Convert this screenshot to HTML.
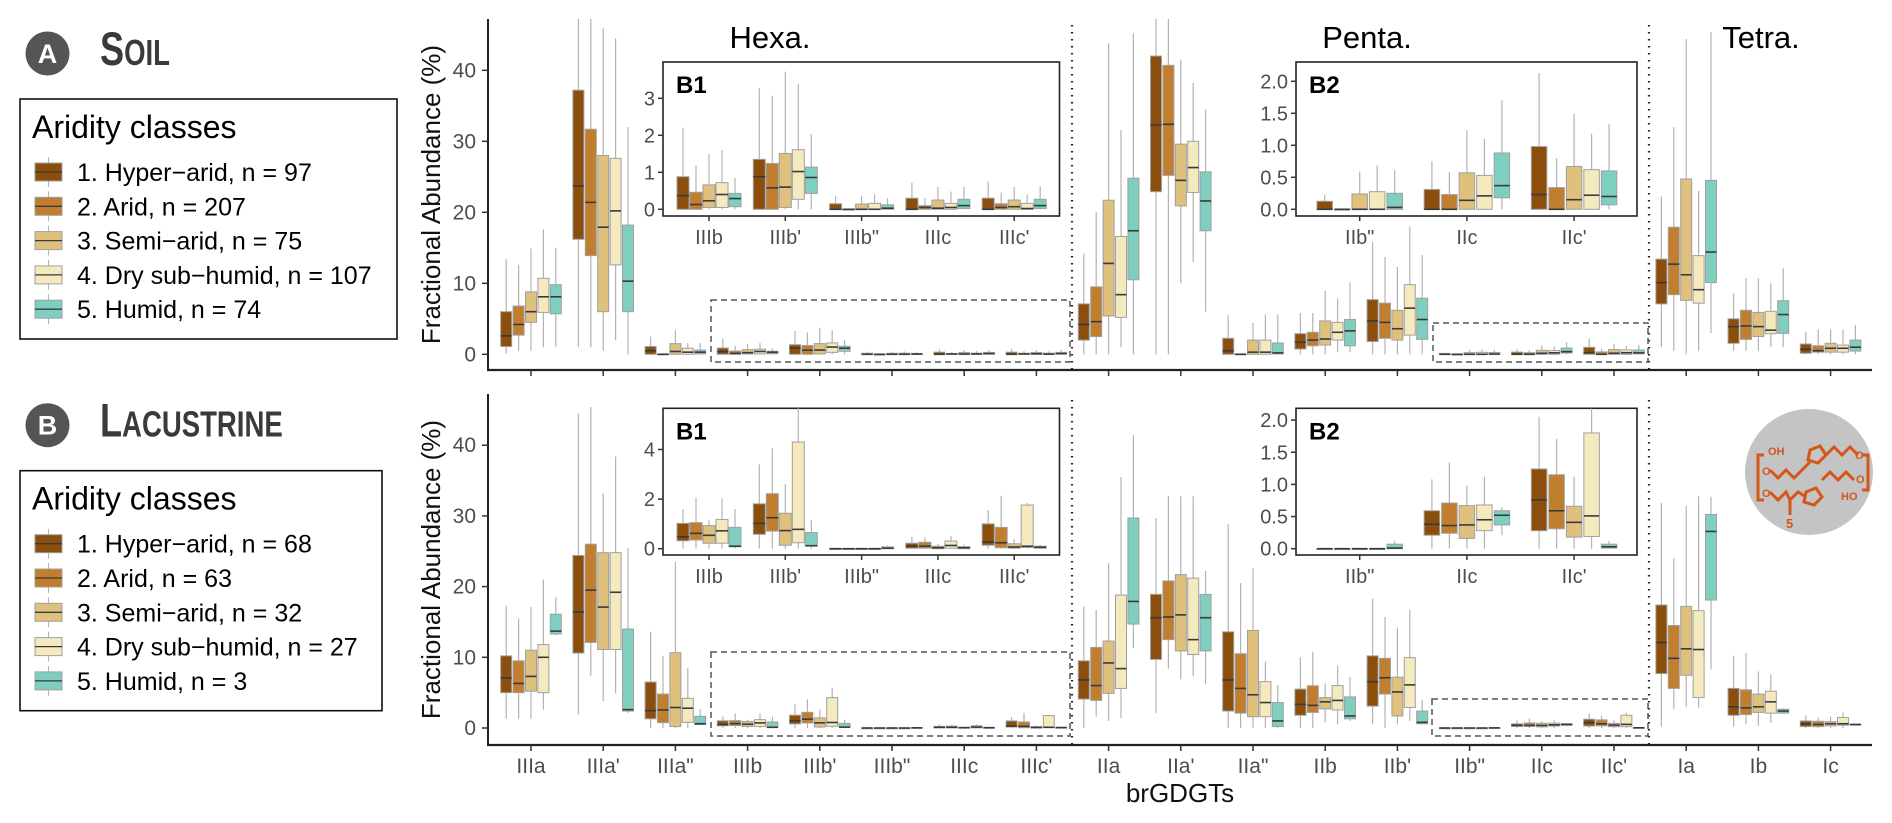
<!DOCTYPE html>
<html><head><meta charset="utf-8"><title>brGDGT fractional abundance by aridity class</title>
<style>
html,body{margin:0;padding:0;background:#fff;}
svg{display:block;font-family:"Liberation Sans",sans-serif;}
</style></head>
<body>
<svg id="chart" xmlns="http://www.w3.org/2000/svg" width="1892" height="823" viewBox="0 0 1892 823">
<defs>
<clipPath id="clipTop"><rect x="488" y="19" width="1390" height="351"/></clipPath>
<clipPath id="clipBot"><rect x="488" y="394" width="1390" height="351"/></clipPath>
</defs>
<g id="legendLayer"></g>
<g id="plotLayer"></g>
<g id="molecule">
<ellipse cx="1809" cy="472" rx="64" ry="63" fill="#c4c4c4"/>
<g fill="none" stroke="#d4561a" stroke-width="3">
<polyline points="1764,455 1758,455 1758,500 1764,500"/>
<polyline points="1770,470 1778,478 1786,470 1794,478 1802,470 1810,462"/>
<polygon points="1810,450 1820,446 1826,455 1818,463 1808,460"/>
<polyline points="1826,455 1834,447 1842,455 1850,447 1858,455"/>
<polyline points="1770,492 1778,500 1786,492 1790,500 1798,492 1806,497"/>
<polygon points="1806,492 1816,488 1822,497 1814,505 1804,502"/>
<polyline points="1822,480 1830,472 1838,480 1846,472 1854,480"/>
<polyline points="1790,500 1790,515"/>
<polyline points="1862,455 1868,455 1868,490 1862,490"/>
</g>
<g fill="#d4561a" font-size="11" font-weight="bold">
<text x="1768" y="455">OH</text><text x="1762" y="475">O</text><text x="1762" y="497">O</text>
<text x="1855" y="459">O</text><text x="1856" y="483">O</text><text x="1841" y="500">HO</text>
<text x="1786" y="528" font-size="13">5</text>
</g>
</g>
</svg>
<script>
// ---------- data ----------
const categories = ["IIIa","IIIa'","IIIa\"","IIIb","IIIb'","IIIb\"","IIIc","IIIc'","IIa","IIa'","IIa\"","IIb","IIb'","IIb\"","IIc","IIc'","Ia","Ib","Ic"];
const classColors = ["#8b4e0c","#c17e2e","#dfc07c","#f5e9be","#7ecfc0"];
const soilLegend = ["1. Hyper\u2212arid, n = 97","2. Arid, n = 207","3. Semi\u2212arid, n = 75","4. Dry sub\u2212humid, n = 107","5. Humid, n = 74"];
const lakeLegend = ["1. Hyper\u2212arid, n = 68","2. Arid, n = 63","3. Semi\u2212arid, n = 32","4. Dry sub\u2212humid, n = 27","5. Humid, n = 3"];
const mainTicks = [0,10,20,30,40];
const b1TopTicks = [0,1,2,3];
const b1BotTicks = [0,2,4];
const b2Ticks = [0,0.5,1,1.5,2];
const b2TickLabels = ["0.0","0.5","1.0","1.5","2.0"];
const b1Cats = [3,4,5,6,7];
const b2Cats = [13,14,15];
// [low whisker, q1, median, q3, high whisker] per category
const soilHyper = [[0.1,1.1,2.6,6.0,13.4],[1,16.2,23.7,37.2,48],[0,0,0.5,1.1,2.5],[0,0,0.37,0.88,2.2],[0,0,0.88,1.35,3.27],[0,0,0,0.15,0.35],[0,0,0,0.3,0.72],[0,0,0,0.3,0.75],[0,2,4.2,7.1,14.2],[0,22.9,32.3,42,48],[0,0,0.5,2.25,5.5],[0,0.75,1.7,2.9,5.8],[0,1.8,4.7,7.7,15.8],[0,0,0,0.125,0.23],[0,0,0,0.31,0.75],[0,0,0.23,0.98,2.13],[1,7.1,10.1,13.4,22.2],[0.5,1.55,3.9,5.0,8.6],[0,0.15,0.7,1.45,3.2]];
const soilArid = [[0.5,2.7,4.2,6.8,12.6],[1,13.9,21.4,31.7,48],[0,0,0,0.05,0.1],[0,0,0.13,0.46,1.18],[0,0,0.58,1.24,3.07],[0,0,0,0,0],[0,0,0.05,0.1,0.3],[0,0,0.05,0.15,0.45],[0,2.5,4.6,9.5,20],[0,25.2,32.4,40.7,48],[0,0,0,0.05,0.1],[0,1.2,2.0,3.1,5.8],[0,2.25,4.5,7.2,13.7],[0,0,0,0,0],[0,0,0,0.23,0.58],[0,0,0,0.34,0.8],[0.5,8.4,12.7,17.9,32],[0.5,2.1,4.0,6.2,10.7],[0,0.3,0.5,1.2,3.5]];
const soilSemi = [[0.5,4.5,6.0,8.8,14.9],[0.5,6,17.9,28,45.9],[0,0,0.4,1.5,3.4],[0,0.05,0.23,0.66,1.5],[0,0.05,0.6,1.51,3.72],[0,0,0,0.14,0.35],[0,0,0.03,0.25,0.6],[0,0,0.07,0.25,0.6],[0,5.4,12.8,21.7,43.8],[10,20.9,24.5,29.6,41.5],[0,0,0.3,2.0,4.4],[0,1.3,2.15,4.7,8.9],[0,2.0,3.6,6.2,12.3],[0,0,0,0.24,0.59],[0,0,0.14,0.57,1.24],[0,0,0.15,0.67,1.49],[0,7.6,11.2,24.7,44.4],[0.5,2.5,3.9,5.9,10.7],[0,0.3,0.85,1.55,3.5]];
const soilDry = [[1,5.9,8.1,10.7,17.6],[2,12.6,20.2,27.6,44.5],[0,0,0.3,0.85,1.6],[0,0.05,0.4,0.72,1.6],[0,0.27,1.02,1.61,3.39],[0,0,0,0.16,0.4],[0,0,0.05,0.16,0.48],[0,0,0.02,0.16,0.4],[1,5.2,8.4,16.6,31.6],[13,22.8,26.3,30,38.2],[0,0,0.3,2.0,5.6],[0.3,2.0,3.1,4.5,7.9],[0,2.7,6.5,9.8,18],[0,0,0,0.275,0.69],[0,0,0.21,0.53,1.1],[0,0,0.22,0.62,1.18],[0.5,7.2,9.1,13.9,23],[1,2.9,3.4,6.05,10],[0,0.3,0.85,1.3,3.5]];
const soilHumid = [[1,5.7,8.1,9.8,15],[0,6,10.3,18.2,32],[0,0.05,0.3,0.6,1.6],[0,0.07,0.29,0.43,0.84],[0,0.43,0.86,1.14,2.03],[0,0,0.03,0.12,0.3],[0,0.02,0.1,0.27,0.6],[0,0.02,0.1,0.27,0.62],[0,10.5,17.4,24.8,45.2],[6,17.4,21.6,25.7,34.5],[0,0.05,0.2,1.6,5.6],[0.3,1.2,3.3,4.9,10.1],[0,2.1,4.9,7.9,14],[0,0,0.03,0.25,0.61],[0,0.18,0.37,0.88,1.7],[0,0.07,0.2,0.6,1.33],[3,10.1,14.4,24.5,45.4],[1,2.95,5.6,7.55,12.1],[0,0.45,1.0,2.0,4.1]];
const lakeHyper = [[1.3,5.0,7.1,10.2,17.3],[1.9,10.6,16.4,24.4,44.5],[0,1.3,2.45,6.5,13.6],[0,0.32,0.48,1.02,1.6],[0,0.58,1.02,1.81,3.4],[0,0,0,0,0],[0,0.02,0.1,0.22,0.48],[0,0.14,0.27,1.0,1.56],[0,4.1,6.8,9.5,17.2],[2.1,9.7,15.6,18.9,29.7],[0,2.4,6.8,13.6,28.8],[0,1.8,3.35,5.5,10],[0.5,3.1,6.55,10.2,18.3],[0,0,0,0,0],[0,0.21,0.38,0.59,1.08],[0,0.28,0.76,1.24,2.05],[0.2,7.7,12.1,17.4,31.8],[0.2,1.8,3.0,5.6,10.2],[0,0.2,0.6,1.0,1.8]];
const lakeArid = [[1.3,5.0,6.3,9.5,15.5],[7.4,12.1,19.5,26.0,45.4],[0,0.75,2.55,4.8,10.2],[0,0.35,0.62,1.05,2.07],[0,0.71,1.25,2.22,4.05],[0,0,0,0,0],[0,0.02,0.1,0.26,0.45],[0,0.04,0.24,0.86,2.13],[1.6,3.9,6.0,11.4,16.7],[8.4,12.5,15.7,20.8,32.8],[0,2.1,5.6,10.5,20.5],[0,2.2,3.2,5.97,10.8],[0,4.8,7.1,9.85,15.7],[0,0,0,0,0],[0,0.24,0.36,0.71,1.34],[0,0.31,0.59,1.15,1.71],[2.65,5.6,9.85,14.5,24],[0.5,1.9,2.85,5.4,10.6],[0,0.2,0.5,0.95,1.5]];
const lakeSemi = [[1.3,5.2,7.3,11.0,17.1],[3.8,11.1,17.1,24.8,33.2],[0,0.2,2.9,10.65,23.5],[0,0.22,0.54,0.93,1.16],[0,0.14,0.73,1.43,2.6],[0,0,0,0,0],[0,0,0.04,0.1,0.2],[0,0.02,0.07,0.2,0.38],[1.0,4.9,9.2,12.3,23.3],[6.9,10.9,16.0,21.7,32.8],[0,1.6,4.7,13.8,22.6],[0.8,2.7,3.7,4.3,6.3],[0.5,1.7,5.1,7.2,14.2],[0,0,0,0,0],[0,0.16,0.37,0.67,0.98],[0,0.18,0.41,0.66,1.12],[3.0,7.45,11.2,17.2,31.4],[0.3,2.2,3.0,4.8,8.0],[0,0.3,0.6,0.9,1.6]];
const lakeDry = [[2.6,5.0,10.0,11.8,21],[4.9,11.1,19.2,24.8,38.4],[0,0.8,2.8,4.2,8.5],[0,0.22,0.72,1.18,2.03],[0,0.24,0.78,4.3,5.7],[0,0,0,0,0],[0,0.02,0.13,0.31,0.51],[0,0.05,0.1,1.76,1.85],[1.4,5.6,8.4,18.8,35.5],[7.3,10.4,12.5,21.2,32.8],[0,1.6,3.6,6.55,9.4],[0.5,2.55,3.9,6.0,8.8],[1,2.9,6.1,9.95,16.7],[0,0,0,0,0],[0,0.28,0.45,0.68,1.12],[0,0.19,0.51,1.8,2.18],[2.9,4.3,11.1,16.6,32.8],[0.7,2.1,3.7,5.2,7.6],[0,0.4,0.6,1.5,2.2]];
const lakeHumid = [[13.1,13.3,13.7,16.1,18.5],[2.1,2.4,2.6,14.0,25.4],[0.4,0.5,0.6,1.65,2.7],[0,0.08,0.1,0.86,1.6],[0,0.11,0.12,0.65,1.16],[0,0,0.02,0.07,0.13],[0,0,0.04,0.08,0.17],[0,0.02,0.06,0.1,0.15],[11.3,14.7,17.9,29.7,41.4],[6.2,10.9,15.6,18.9,22.2],[0,0.2,1.0,3.6,6.1],[1.0,1.3,1.7,4.4,7.2],[0.5,0.6,0.8,2.4,4.0],[0,0,0.01,0.07,0.12],[0.21,0.37,0.52,0.59,0.64],[0,0.01,0.03,0.07,0.12],[8.3,18.1,27.8,30.2,32.7],[2.0,2.1,2.4,2.65,2.8],[0.45,0.48,0.5,0.52,0.55]];
const soilSeries = [soilHyper,soilArid,soilSemi,soilDry,soilHumid];
const lakeSeries = [lakeHyper,lakeArid,lakeSemi,lakeDry,lakeHumid];

// ---------- drawing ----------
const NS = "http://www.w3.org/2000/svg";
function mk(tag, parent, attrs){ const e=document.createElementNS(NS,tag); for(const k in attrs) e.setAttribute(k,attrs[k]); parent.appendChild(e); return e; }
const plot = document.getElementById("plotLayer");
const legendLayer = document.getElementById("legendLayer");
const xCat = i => 531 + 72.2*i;
const classNames = ["hyper-arid","arid","semi-arid","dry-subhumid","humid"];

function drawBox(g, cx, w, d, yf, color, name){
  const bg = mk("g", g, {});
  
  
  mk("line", bg, {x1:cx,x2:cx,y1:yf(d[4]),y2:yf(d[0]),stroke:"#b3b3b3","stroke-width":1.2});
  const h = Math.max(yf(d[1])-yf(d[3]), 0.8);
  mk("rect", bg, {x:cx-w/2,y:yf(d[3]),width:w,height:h,fill:color,stroke:"#a0a0a0","stroke-width":1});
  mk("line", bg, {x1:cx-w/2,x2:cx+w/2,y1:yf(d[2]),y2:yf(d[2]),stroke:"#3a3a3a","stroke-width":1.6});
}

function drawPanel(series, yf, top, bottom, clipId, panelName, showLabels){
  const g = mk("g", plot, {});
  
  
  mk("line", g, {x1:488,x2:488,y1:top,y2:bottom,stroke:"#222","stroke-width":2});
  mk("line", g, {x1:487,x2:1872,y1:bottom,y2:bottom,stroke:"#222","stroke-width":2.2});
  mainTicks.forEach(t=>{
    mk("line", g, {x1:482,x2:488,y1:yf(t),y2:yf(t),stroke:"#333","stroke-width":1.5});
    const tx = mk("text", g, {x:476,y:yf(t)+7,"text-anchor":"end","font-size":21,fill:"#4d4d4d"});
    tx.textContent = t;
    
    
  });
  const yt = mk("text", g, {x:0,y:0,"font-size":26,fill:"#111","text-anchor":"middle",transform:`translate(440,${(top+bottom)/2}) rotate(-90)`});
  yt.textContent = "Fractional Abundance (%)";
  
  
  categories.forEach((c,i)=>{
    mk("line", g, {x1:xCat(i),x2:xCat(i),y1:bottom,y2:bottom+6,stroke:"#333","stroke-width":1.5});
    if(showLabels){
      const t = mk("text", g, {x:xCat(i),y:bottom+28,"text-anchor":"middle","font-size":21,fill:"#4d4d4d"});
      t.textContent = c;
      
      
    }
  });
  [1072,1649].forEach(x=>{
    const l = mk("line", g, {x1:x,x2:x,y1:top+6,y2:bottom,stroke:"#222","stroke-width":2.2,"stroke-dasharray":"1.5 5.5"});
    
    
  });
  const marks = mk("g", g, {"clip-path":`url(#${clipId})`});
  categories.forEach((c,i)=>{
    series.forEach((s,k)=>{
      drawBox(marks, xCat(i)+(k-2)*12.4, 11, s[i], yf, classColors[k], "box-"+classNames[k]);
    });
  });
  return g;
}

function dashedRect(x0,y0,x1,y1,name){
  const r = mk("rect", plot, {x:x0,y:y0,width:x1-x0,height:y1-y0,fill:"none",stroke:"#555","stroke-width":1.5,"stroke-dasharray":"6 4"});
  
  
}

function drawInset(series, cats, cfg, name){
  const g = mk("g", plot, {});
  
  
  mk("rect", g, {x:cfg.x0,y:cfg.y0,width:cfg.x1-cfg.x0,height:cfg.y1-cfg.y0,fill:"#fff",stroke:"#222","stroke-width":1.6});
  const cid = "clip"+name;
  const cp = mk("clipPath", g, {id:cid});
  mk("rect", cp, {x:cfg.x0,y:cfg.y0,width:cfg.x1-cfg.x0,height:cfg.y1-cfg.y0});
  cfg.ticks.forEach((t,j)=>{
    mk("line", g, {x1:cfg.x0-5,x2:cfg.x0,y1:cfg.y(t),y2:cfg.y(t),stroke:"#333","stroke-width":1.5});
    const tx = mk("text", g, {x:cfg.x0-8,y:cfg.y(t)+7,"text-anchor":"end","font-size":20,fill:"#4d4d4d"});
    tx.textContent = cfg.labels ? cfg.labels[j] : t;
    
    
  });
  const marks = mk("g", g, {"clip-path":`url(#${cid})`});
  cats.forEach((ci,j)=>{
    const cx = cfg.cx(j);
    mk("line", g, {x1:cx,x2:cx,y1:cfg.y1,y2:cfg.y1+5,stroke:"#333","stroke-width":1.5});
    const t = mk("text", g, {x:cx,y:cfg.y1+28,"text-anchor":"middle","font-size":20,fill:"#4d4d4d"});
    t.textContent = categories[ci];
    
    
    series.forEach((s,k)=>{
      drawBox(marks, cx+(k-2)*cfg.stride, cfg.w, s[ci], cfg.y, classColors[k], "inset-box-"+classNames[k]);
    });
  });
  const lb = mk("text", g, {x:cfg.x0+13,y:cfg.y0+31,"font-size":24,"font-weight":"bold",fill:"#000"});
  lb.textContent = cfg.title;
  
  
}

const yTop = v => 354.3 - 7.1*v;
const yBot = v => 728 - 7.07*v;
drawPanel(soilSeries, yTop, 19, 370, "clipTop", "soil-panel", false);
drawPanel(lakeSeries, yBot, 394, 745, "clipBot", "lacustrine-panel", true);
dashedRect(711,300,1070,362,"zoom-region-hexa-soil");
dashedRect(1433,323,1648,362,"zoom-region-penta-soil");
dashedRect(711,652,1070,736,"zoom-region-hexa-lake");
dashedRect(1432,699,1648,736,"zoom-region-penta-lake");

[["Hexa.",770],["Penta.",1367],["Tetra.",1761]].forEach(([t,x])=>{
  const e = mk("text", plot, {x:x,y:48,"text-anchor":"middle","font-size":31,fill:"#000"});
  e.textContent = t;
  
  
});
const xt = mk("text", plot, {x:1180,y:802,"text-anchor":"middle","font-size":26,fill:"#111"});
xt.textContent = "brGDGTs";



drawInset(soilSeries, b1Cats, {x0:663,y0:62,x1:1059.5,y1:216,cx:j=>709+76.3*j,stride:13,w:12,y:v=>209.3-37*v,ticks:b1TopTicks,title:"B1"}, "inset-b1-soil");
drawInset(soilSeries, b2Cats, {x0:1296,y0:62,x1:1637,y1:216,cx:j=>1359.7+107.2*j,stride:17.5,w:15.5,y:v=>209.3-64*v,ticks:b2Ticks,labels:b2TickLabels,title:"B2"}, "inset-b2-soil");
drawInset(lakeSeries, b1Cats, {x0:663,y0:408.3,x1:1059.5,y1:555,cx:j=>709+76.3*j,stride:13,w:12,y:v=>548.7-24.8*v,ticks:b1BotTicks,title:"B1"}, "inset-b1-lake");
drawInset(lakeSeries, b2Cats, {x0:1296,y0:408.3,x1:1637,y1:555,cx:j=>1359.7+107.2*j,stride:17.5,w:15.5,y:v=>548.7-64.3*v,ticks:b2Ticks,labels:b2TickLabels,title:"B2"}, "inset-b2-lake");

function drawLegend(dy, letter, big, small, entries, right, name){
  const g = mk("g", legendLayer, {});
  
  
  mk("circle", g, {cx:47.5,cy:53.5+dy,r:22,fill:"#555"});
  const L = mk("text", g, {x:47.5,y:63+dy,"text-anchor":"middle","font-size":27,"font-weight":"bold",fill:"#fff"});
  L.textContent = letter;
  const h = mk("text", g, {x:0,y:0,"font-family":"'Liberation Sans Narrow','Liberation Sans',sans-serif","font-weight":"bold",fill:"#3a3a3a",transform:`translate(100,${65+dy}) scale(0.95,1.25)`});
  
  
  const t1 = mk("tspan", h, {"font-size":38}); t1.textContent = big;
  const t2 = mk("tspan", h, {"font-size":29}); t2.textContent = small;
  mk("rect", g, {x:20,y:99+dy,width:right-20,height:240,fill:"#fff",stroke:"#111","stroke-width":1.6});
  const tt = mk("text", g, {x:32,y:138+dy,"font-size":32,fill:"#000"});
  tt.textContent = "Aridity classes";
  
  
  entries.forEach((e,k)=>{
    const cy = 172 + 34.3*k + dy;
    const eg = mk("g", g, {});
    
    
    mk("line", eg, {x1:48.5,x2:48.5,y1:cy-15,y2:cy+15,stroke:"#b3b3b3","stroke-width":1});
    mk("rect", eg, {x:35,y:cy-9,width:27,height:18,fill:classColors[k],stroke:"#a0a0a0","stroke-width":1});
    mk("line", eg, {x1:35,x2:62,y1:cy,y2:cy,stroke:"#3a3a3a","stroke-width":1.3});
    const tx = mk("text", eg, {x:77,y:cy+9,"font-size":25,fill:"#000"});
    tx.textContent = e;
  });
}
drawLegend(0, "A", "S", "OIL", soilLegend, 397, "soil-legend");
drawLegend(371.7, "B", "L", "ACUSTRINE", lakeLegend, 382, "lacustrine-legend");
</script>
</body></html>
